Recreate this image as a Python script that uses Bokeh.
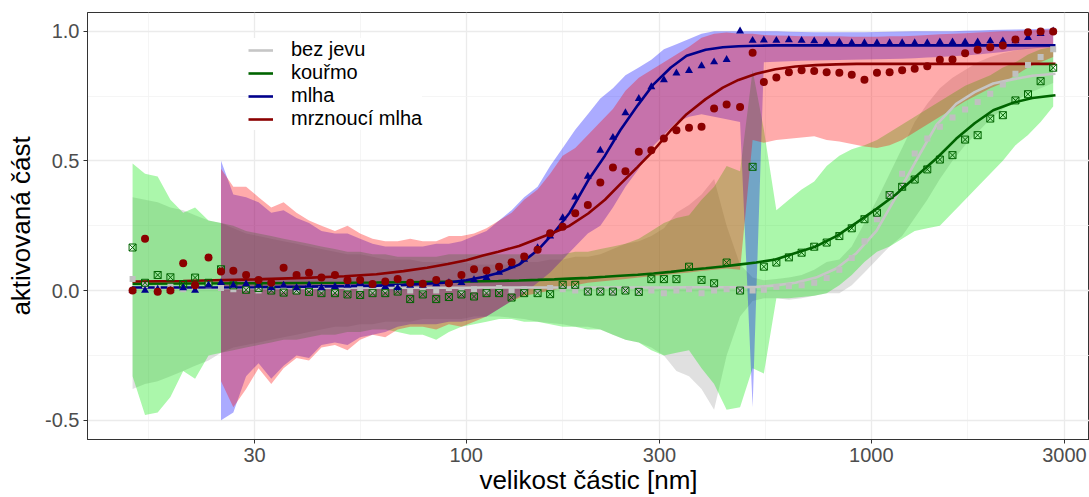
from bokeh.plotting import figure
from bokeh.models import Range1d, FixedTicker, PrintfTickFormatter, Legend, LegendItem, ColumnDataSource
from bokeh.embed import file_html
from bokeh.resources import INLINE

# particle sizes [nm]: SMPS bins (first 50) followed by OPC bins (last 24)
SIZES = [15.0, 16.1, 17.3, 18.6, 20.0, 21.4, 23.1, 24.8, 26.6, 28.6, 30.7, 33.0, 35.4, 38.1, 40.9,
         43.9, 47.4, 50.9, 54.7, 58.7, 63.1, 67.7, 72.7, 78.1, 84.3, 90.6, 97.3, 104.5, 112.2, 120.5,
         129.4, 139.0, 150.0, 161.1, 173.0, 185.8, 199.6, 214.3, 230.2, 247.2, 266.7, 286.4, 307.6,
         330.3, 354.8, 381.0, 409.2, 439.4, 474.3, 509.4,
         543, 583, 626, 673, 723, 776, 834, 895, 962, 1033, 1110, 1192, 1280, 1375, 1477, 1587,
         1705, 1831, 1967, 2113, 2270, 2438, 2619, 2813]

# sizes at which the fitted curves were read
FIT_SIZES = [15, 20, 30, 40, 50, 60, 70, 80, 90, 100, 110, 120, 135, 150, 165, 180, 200, 220, 240,
             265, 290, 320, 350, 390, 430, 470, 520, 580, 650, 730, 820, 920, 1030, 1150, 1300,
             1450, 1620, 1800, 2000, 2250, 2500, 2850]

N = None

# ---- bez jevu ----
BEZ_POINTS = [0.045, 0.02, 0.01, 0.015, 0.005, 0.01, 0.02, 0.01, 0.005, 0.01, 0.0, 0.01, 0.005, 0.0,
              0.01, 0.005, 0.0, 0.01, 0.005, 0.0, 0.005, 0.01, 0.0, 0.005, 0.0, 0.01, 0.0, 0.005, 0.0,
              0.01, 0.0, 0.005, 0.0, 0.01, 0.005, 0.0, -0.005, 0.0, -0.01, 0.0, -0.005, 0.0, -0.01,
              0.0, 0.005, -0.01, 0.0, 0.005, 0.0, 0.0,
              0.003, 0.015, 0.018, 0.02, 0.03, 0.048, 0.08, 0.125, 0.19, 0.275, 0.37, 0.45, 0.528,
              0.586, 0.631, 0.667, 0.698, 0.727, 0.759, 0.794, 0.836, 0.87, 0.9, 0.93]
BEZ_LO = [-0.38, -0.36, -0.35, -0.33, -0.31, -0.29, -0.27, -0.24, -0.22, -0.21, -0.20, -0.19, -0.18,
          -0.17, -0.16, -0.15, -0.14, -0.14, -0.13, -0.13, -0.12, -0.12, -0.12, -0.11, -0.11, -0.11,
          -0.11, -0.10, -0.10, -0.10, -0.105, -0.11, -0.12, -0.125, -0.13, -0.14, -0.14, -0.15,
          -0.17, -0.19, -0.20, -0.22, -0.25, -0.31, -0.33, -0.38, -0.46, -0.25, -0.10, -0.04,
          -0.03, -0.03, -0.035, -0.03, -0.02, -0.01, -0.01, 0.02, 0.07, 0.12, 0.17, 0.21, 0.28,
          0.35, 0.43, 0.5, 0.56, 0.61, 0.66, 0.70, 0.73, 0.76, 0.78, 0.80]
BEZ_HI = [0.36, 0.35, 0.34, 0.32, 0.31, 0.29, 0.27, 0.26, 0.24, 0.22, 0.21, 0.2, 0.19, 0.18, 0.17,
          0.16, 0.15, 0.14, 0.14, 0.13, 0.12, 0.12, 0.12, 0.11, 0.11, 0.11, 0.11, 0.10, 0.10, 0.10,
          0.10, 0.11, 0.11, 0.12, 0.12, 0.13, 0.13, 0.14, 0.16, 0.18, 0.19, 0.21, 0.24, 0.30, 0.33,
          0.37, 0.43, 0.25, 0.10, 0.05,
          0.04, 0.045, 0.05, 0.06, 0.08, 0.11, 0.12, 0.17, 0.26, 0.35, 0.45, 0.55, 0.65, 0.72,
          0.78, 0.82, 0.85, 0.88, 0.90, 0.915, 0.925, 0.935, 0.94, 0.945]
BEZ_FIT = [0.010, 0.010, 0.010, 0.010, 0.011, 0.011, 0.011, 0.011, 0.011, 0.011, 0.012, 0.012, 0.012,
           0.012, 0.012, 0.012, 0.012, 0.012, 0.012, 0.012, 0.012, 0.012, 0.013, 0.013, 0.013, 0.013,
           0.014, 0.02, 0.03, 0.05, 0.085, 0.145, 0.23, 0.36, 0.51, 0.64, 0.72, 0.765, 0.798,
           0.815, 0.828, 0.836]

# ---- kouřmo ----
KOU_POINTS = [0.166, 0.03, 0.06, 0.051, 0.025, 0.05, 0.03, 0.082, 0.02, 0.003, 0.01, 0.0, -0.008,
              0.0, -0.005, -0.01, -0.01, -0.015, -0.017, -0.01, -0.01, -0.004, -0.033, -0.015,
              -0.033, -0.025, -0.015, -0.023, -0.01, -0.01, -0.027, -0.01, -0.01, -0.014, 0.022,
              0.022, -0.004, -0.004, -0.004, 0.0, -0.005, 0.044, 0.044, 0.044, 0.092, 0.041, 0.028,
              0.108, 0.0, 0.477,
              0.092, 0.108, 0.128, 0.146, 0.169, 0.185, 0.21, 0.24, 0.275, 0.30, 0.368, 0.40, 0.428,
              0.467, 0.505, 0.522, 0.582, 0.599, 0.663, 0.676, 0.733, 0.757, 0.807, 0.859]
KOU_LO = [-0.33, -0.48, -0.47, -0.41, -0.31, -0.34, -0.25, -0.24, -0.23, -0.22, -0.21, -0.20, -0.19,
          -0.19, -0.18, -0.17, -0.17, -0.16, -0.16, -0.15, -0.15, -0.16, -0.17, -0.17, -0.19, -0.16,
          -0.14, -0.13, -0.12, -0.11, -0.11, -0.12, -0.12, -0.13, -0.14, -0.14, -0.15, -0.15,
          -0.17, -0.19, -0.20, -0.23, -0.25, -0.24, -0.23, -0.30, -0.36, -0.46, -0.45, -0.30,
          -0.32, -0.03, -0.03, -0.025, -0.02, -0.01, 0.02, 0.06, 0.11, 0.15, 0.17, 0.20, 0.23,
          0.24, 0.25, 0.30, 0.35, 0.40, 0.45, 0.50, 0.56, 0.60, 0.65, 0.71]
KOU_HI = [0.49, 0.45, 0.44, 0.35, 0.30, 0.32, 0.27, 0.26, 0.25, 0.23, 0.22, 0.21, 0.20, 0.19, 0.18,
          0.17, 0.16, 0.15, 0.15, 0.14, 0.14, 0.13, 0.13, 0.13, 0.13, 0.14, 0.14, 0.14, 0.14, 0.14,
          0.14, 0.14, 0.14, 0.14, 0.14, 0.15, 0.15, 0.16, 0.17, 0.18, 0.20, 0.23, 0.26, 0.28, 0.29,
          0.35, 0.40, 0.48, 0.46, 0.85,
          0.62, 0.31, 0.35, 0.39, 0.42, 0.48, 0.52, 0.545, 0.56, 0.58, 0.61, 0.64, 0.67, 0.70,
          0.73, 0.76, 0.79, 0.81, 0.83, 0.86, 0.88, 0.91, 0.93, 0.94]
KOU_FIT = [0.026, 0.027, 0.028, 0.029, 0.03, 0.031, 0.032, 0.033, 0.034, 0.035, 0.036, 0.037, 0.039,
           0.041, 0.043, 0.046, 0.049, 0.053, 0.057, 0.061, 0.066, 0.072, 0.079, 0.086, 0.093, 0.10,
           0.108, 0.12, 0.145, 0.17, 0.21, 0.262, 0.315, 0.37, 0.445, 0.51, 0.585, 0.645, 0.695,
           0.725, 0.742, 0.753]

# ---- mlha ----
MLH_POINTS = [0.0, 0.0, 0.005, 0.0, 0.01, 0.0, 0.02, 0.03, 0.02, 0.025, 0.02, 0.01, 0.02, 0.01, 0.02,
              0.01, 0.015, 0.02, 0.03, 0.02, 0.015, 0.01, 0.02, 0.02, 0.025, 0.03, 0.03, 0.041, 0.05,
              0.07, 0.095, 0.12, 0.165, 0.21, 0.28, 0.36, 0.44, 0.54, 0.59, 0.685, 0.74, 0.785,
              0.812, 0.838, 0.848, 0.866, 0.881, 0.89, 1.0, 0.964,
              0.965, 0.964, 0.966, 0.964, 0.962, 0.958, 0.958, 0.955, 0.955, 0.955, 0.955, 0.955,
              0.955, 0.955, 0.958, 0.958, 0.958, 0.958, 0.962, 0.962, 0.962, 0.975, 0.99, 1.0]
MLH_LO = [N, N, N, N, N, N, N,
          -0.50, -0.47, -0.33, -0.28, -0.34, -0.29, -0.25, -0.26, -0.21, -0.20, -0.21, -0.18, -0.17,
          -0.16, -0.14, -0.13, -0.13, -0.13, -0.12, -0.12, -0.11, -0.10, -0.07, -0.04, -0.01, 0.03,
          0.07, 0.12, 0.17, 0.22, 0.25, 0.32, 0.40, 0.47, 0.55, 0.60, 0.65, 0.67, 0.68, 0.67, 0.66,
          0.65, -0.45,
          0.88, 0.882, 0.884, 0.886, 0.887, 0.888, 0.889, 0.89, 0.891, 0.892, 0.893, 0.894, 0.896,
          0.898, 0.90, 0.903, 0.906, 0.91, 0.915, 0.92, 0.926, 0.932, 0.936, 0.938]
MLH_HI = [N, N, N, N, N, N, N,
          0.50, 0.37, 0.36, 0.34, 0.30, 0.31, 0.28, 0.26, 0.23, 0.22, 0.22, 0.20, 0.18, 0.17, 0.17,
          0.17, 0.17, 0.18, 0.18, 0.19, 0.21, 0.23, 0.27, 0.31, 0.36, 0.40, 0.48, 0.55, 0.62, 0.68,
          0.74, 0.78, 0.83, 0.86, 0.89, 0.93, 0.95, 0.97, 0.99, 1.0, 1.0, 1.0, 1.0,
          1.0, 1.0, 0.998, 0.997, 0.996, 0.996, 0.996, 0.996, 0.996, 0.997, 0.998, 0.999, 1.0, 1.0,
          1.0, 1.0, 1.002, 1.003, 1.004, 1.005, 1.006, 1.007, 1.008, 1.01]
MLH_FIT = [0.012, 0.012, 0.013, 0.015, 0.017, 0.019, 0.022, 0.026, 0.031, 0.04, 0.052, 0.068, 0.10,
           0.155, 0.225, 0.30, 0.425, 0.52, 0.618, 0.714, 0.795, 0.86, 0.905, 0.928, 0.938, 0.942,
           0.944, 0.945, 0.945, 0.945, 0.945, 0.945, 0.945, 0.945, 0.945, 0.945, 0.945, 0.945,
           0.945, 0.945, 0.945, 0.945]

# ---- mrznoucí mlha ----
MRZ_POINTS = [0.0, 0.2, -0.005, 0.0, 0.105, 0.02, 0.127, 0.073, 0.076, 0.06, 0.041, 0.03, 0.088, 0.06,
              0.069, 0.05, 0.06, 0.04, 0.041, 0.025, 0.035, 0.045, 0.03, 0.026, 0.041, 0.028, 0.06,
              0.082, 0.077, 0.092, 0.109, 0.131, 0.157, 0.221, 0.246, 0.298, 0.33, 0.417, 0.474,
              0.46, 0.535, 0.541, 0.586, 0.618, 0.628, 0.631, 0.702, 0.717, 0.708, 0.917,
              0.804, 0.821, 0.842, 0.849, 0.846, 0.842, 0.84, 0.832, 0.813, 0.84, 0.842, 0.849, 0.855,
              0.865, 0.89, 0.891, 0.915, 0.928, 0.938, 0.945, 0.968, 0.996, 0.999, 0.999]
MRZ_LO = [N, N, N, N, N, N, N,
          -0.35, -0.45, -0.38, -0.30, -0.36, -0.30, -0.26, -0.27, -0.22, -0.21, -0.23, -0.19, -0.17,
          -0.18, -0.15, -0.14, -0.14, -0.15, -0.13, -0.14, -0.12, -0.10, -0.07, -0.04, -0.02, -0.01,
          0.0, 0.01, 0.02, 0.03, 0.035, 0.04, 0.045, 0.05, 0.055, 0.06, 0.065, 0.07, 0.075, 0.08,
          0.085, 0.08, 0.58,
          0.57, 0.58, 0.585, 0.59, 0.595, 0.58, 0.575, 0.565, 0.555, 0.55, 0.56, 0.58, 0.61, 0.64,
          0.67, 0.70, 0.73, 0.755, 0.78, 0.80, 0.83, 0.86, 0.88, 0.90]
MRZ_HI = [N, N, N, N, N, N, N,
          0.47, 0.40, 0.40, 0.36, 0.32, 0.34, 0.30, 0.27, 0.25, 0.23, 0.25, 0.22, 0.20, 0.19, 0.19,
          0.20, 0.19, 0.19, 0.21, 0.21, 0.22, 0.24, 0.27, 0.30, 0.35, 0.39, 0.45, 0.52, 0.55, 0.60,
          0.65, 0.70, 0.77, 0.82, 0.85, 0.88, 0.91, 0.94, 0.975, 0.99, 0.995, 0.99, 0.99,
          0.985, 0.983, 0.982, 0.98, 0.98, 0.98, 0.98, 0.978, 0.978, 0.978, 0.98, 0.98, 0.982,
          0.985, 0.988, 0.99, 0.992, 0.995, 0.997, 1.0, 1.0, 1.003, 1.005, 1.005]
MRZ_FIT = [0.035, 0.037, 0.043, 0.049, 0.055, 0.063, 0.075, 0.088, 0.102, 0.117, 0.135, 0.15, 0.172,
           0.20, 0.225, 0.25, 0.297, 0.35, 0.41, 0.477, 0.54, 0.618, 0.68, 0.738, 0.782, 0.812,
           0.836, 0.853, 0.864, 0.869, 0.872, 0.874, 0.874, 0.874, 0.874, 0.874, 0.874, 0.874,
           0.874, 0.874, 0.874, 0.874]

LABELS = ["bez jevu", "kouřmo", "mlha", "mrznoucí mlha"]
POINTS = [BEZ_POINTS, KOU_POINTS, MLH_POINTS, MRZ_POINTS]
LOWS = [BEZ_LO, KOU_LO, MLH_LO, MRZ_LO]
HIGHS = [BEZ_HI, KOU_HI, MLH_HI, MRZ_HI]
FITS = [BEZ_FIT, KOU_FIT, MLH_FIT, MRZ_FIT]

LINE_COLORS = ["#c6c6c6", "#006400", "#00008b", "#8b0000"]
POINT_COLORS = ["#c0c0c0", "#006400", "#00008b", "#8b0000"]
RIBBON_COLORS = ["#8c8c8c", "#00e600", "#0000ff", "#ff0000"]
RIBBON_ALPHA = [0.27, 0.33, 0.33, 0.33]
MARKERS = ["square", "square_x", "triangle", "circle"]
MARKER_SIZES = [6, 7, 8, 8]

FONT = "Liberation Sans"

# geometry: 405 px per decade, 30 nm at page x=254 ; 260 px per unit, 0 at page y=290.7
FRAME_L, FRAME_R, FRAME_T, FRAME_B = 87, 1089, 12, 440
def xval(px):
    return 30 * 10 ** ((px - 254) / 405)
def yval(py):
    return (290.7 - py) / 260

p = figure(width=1089, height=497, x_axis_type="log",
           x_range=Range1d(xval(FRAME_L), xval(FRAME_R)),
           y_range=Range1d(yval(FRAME_B), yval(FRAME_T)),
           output_backend="svg", toolbar_location=None,
           min_border_left=FRAME_L, min_border_top=FRAME_T, min_border_right=0, min_border_bottom=0)

p.background_fill_color = "white"
p.border_fill_color = "white"
p.outline_line_color = "#333333"
p.outline_line_width = 1

# ribbons
for i in range(4):
    idx = [k for k in range(len(SIZES)) if LOWS[i][k] is not None]
    src = ColumnDataSource(dict(x=[SIZES[k] for k in idx],
                                lo=[LOWS[i][k] for k in idx],
                                hi=[HIGHS[i][k] for k in idx]))
    p.varea(x="x", y1="lo", y2="hi", source=src,
            fill_color=RIBBON_COLORS[i], fill_alpha=RIBBON_ALPHA[i])

line_rs = []
for i in range(4):
    r = p.line(FIT_SIZES, FITS[i], line_color=LINE_COLORS[i], line_width=2.6)
    line_rs.append(r)

for i in range(4):
    if MARKERS[i] == "square_x":
        p.scatter(SIZES, POINTS[i], marker="square_x", size=MARKER_SIZES[i],
                  line_color=POINT_COLORS[i], fill_color=None, line_width=1)
    else:
        p.scatter(SIZES, POINTS[i], marker=MARKERS[i], size=MARKER_SIZES[i],
                  line_color=None, fill_color=POINT_COLORS[i])

# legend glyphs: line with a small marker
items = []
for i in range(4):
    dot = p.scatter([], [], marker="circle", size=4, line_color=None, fill_color=LINE_COLORS[i])
    items.append(LegendItem(label=LABELS[i], renderers=[line_rs[i], dot]))
legend = Legend(items=items, location=(161, FRAME_B - 131),
                background_fill_color="white", background_fill_alpha=1.0,
                border_line_color=None, label_text_font=FONT, label_text_font_size="20px",
                label_text_color="black", glyph_width=25, glyph_height=20, label_height=20,
                spacing=0, padding=6, margin=0, label_standoff=18)
p.add_layout(legend)

# axes
p.xaxis.ticker = FixedTicker(ticks=[30, 100, 300, 1000, 3000],
                             minor_ticks=[16.4, 54.8, 173.2, 547.7, 1732])
p.xaxis.formatter = PrintfTickFormatter(format="%d")
p.yaxis.ticker = FixedTicker(ticks=[-0.5, 0.0, 0.5, 1.0], minor_ticks=[-0.25, 0.25, 0.75])
p.yaxis.formatter = PrintfTickFormatter(format="%.1f")

for ax in (p.xaxis, p.yaxis):
    ax.axis_line_color = "#333333"
    ax.major_tick_line_color = "#333333"
    ax.major_tick_in = 0
    ax.major_tick_out = 4
    ax.minor_tick_line_color = None
    ax.major_label_text_font = FONT
    ax.major_label_text_font_size = "20px"
    ax.major_label_text_color = "#4d4d4d"
    ax.axis_label_text_font = FONT
    ax.axis_label_text_font_size = "26px"
    ax.axis_label_text_font_style = "normal"
    ax.axis_label_text_color = "black"
    ax.major_label_standoff = 4

p.xaxis.axis_label = "velikost částic [nm]"
p.yaxis.axis_label = "aktivovaná část"
p.xaxis.axis_label_standoff = 0
p.yaxis.axis_label_standoff = 6

for g in (p.xgrid, p.ygrid):
    g.grid_line_color = "#ebebeb"
    g.grid_line_width = 1.3
    g.minor_grid_line_color = "#f2f2f2"
    g.minor_grid_line_width = 0.8

open("out.html", "w").write(file_html(p, INLINE))
